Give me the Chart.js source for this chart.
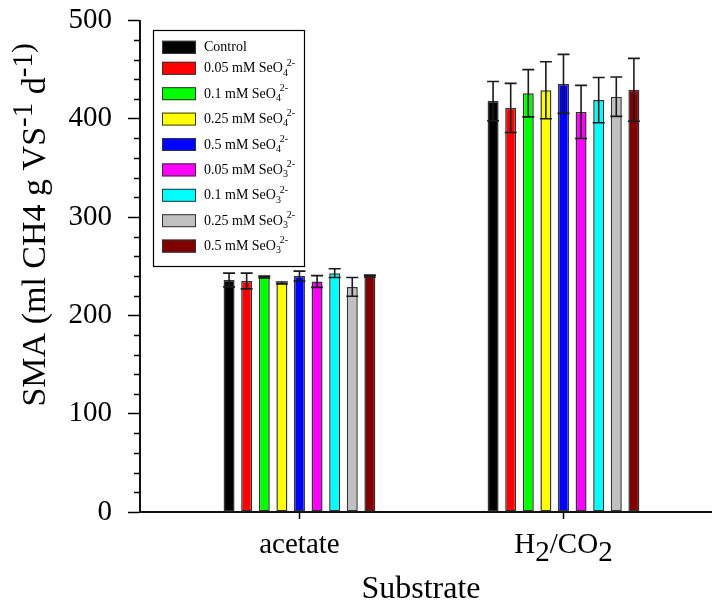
<!DOCTYPE html>
<html>
<head>
<meta charset="utf-8">
<script src="https://cdn.jsdelivr.net/npm/chart.js@4/dist/chart.umd.min.js"></script>
<style>
  html, body { margin: 0; padding: 0; background: #fff; }
  #wrap { width: 712px; height: 608px; position: relative; }
</style>
</head>
<body>
<div id="wrap"><canvas id="chart" width="712" height="608"></canvas></div>
<script>
// Substrates on the x axis ("_" = subscript, "^" = superscript)
const substrates = ['acetate', 'H_2/CO_2'];
const substratePositions = [1, 2];

// Treatments
const treatments = [
  'Control',
  '0.05 mM SeO_4^2-',
  '0.1 mM SeO_4^2-',
  '0.25 mM SeO_4^2-',
  '0.5 mM SeO_4^2-',
  '0.05 mM SeO_3^2-',
  '0.1 mM SeO_3^2-',
  '0.25 mM SeO_3^2-',
  '0.5 mM SeO_3^2-'
];
const treatmentColors = ['#000000', '#ff0000', '#00ff00', '#ffff00', '#0000ff',
                         '#ff00ff', '#00ffff', '#c0c0c0', '#800000'];

// Specific methanogenic activity, mean and standard deviation per treatment
const acetateSMA  = [236, 235, 239, 233, 240, 234.5, 243, 229, 240];
const acetateSD   = [7, 8, 1, 1, 5, 6, 4.5, 9.5, 1];
const h2co2SMA    = [418, 411, 426, 429, 435.5, 407, 419, 422.5, 429.5];
const h2co2SD     = [20, 25, 24, 29, 30, 27, 23, 20, 32];

const yTicks = [0, 100, 200, 300, 400, 500];
const yTitle = 'SMA (ml CH4 g VS^-1 d^-1)';
const xTitle = 'Substrate';

const SERIF = '"Liberation Serif", "Times New Roman", serif';

// Draw text containing _sub and ^sup markup; returns the advance width.
function richText(ctx, text, x, y, size, opt) {
  const o = Object.assign({subScale: 0.72, subDrop: 0.28, supScale: 0.72, supRise: 0.42, measureOnly: false}, opt || {});
  const parts = text.split(/(_[^_^\s/]+|\^[^_^\s]+)/).filter(s => s.length);
  let cx = x;
  let lastSubStart = null, lastSubW = 0;
  for (const p of parts) {
    if (p[0] === '_') {
      const t = p.slice(1);
      ctx.font = Math.round(size * o.subScale) + 'px ' + SERIF;
      const w = ctx.measureText(t).width;
      if (!o.measureOnly) ctx.fillText(t, cx, y + size * o.subDrop);
      lastSubStart = cx; lastSubW = w;
      cx += w;
    } else if (p[0] === '^') {
      const t = p.slice(1);
      ctx.font = Math.round(size * o.supScale) + 'px ' + SERIF;
      const w = ctx.measureText(t).width;
      let sx = cx;
      if (lastSubStart !== null && lastSubStart + lastSubW === cx) sx = lastSubStart + lastSubW * 0.75;
      if (!o.measureOnly) ctx.fillText(t, sx, y - size * o.supRise);
      cx = Math.max(cx, sx + w);
      lastSubStart = null;
    } else {
      ctx.font = size + 'px ' + SERIF;
      const w = ctx.measureText(p).width;
      if (!o.measureOnly) ctx.fillText(p, cx, y);
      cx += w;
      lastSubStart = null;
    }
  }
  return cx - x;
}

const errorData = [acetateSD, h2co2SD];

// Error bars: vertical whisker with caps at mean +/- SD
const errorBars = {
  id: 'errorBars',
  afterDatasetsDraw(chart) {
    const ctx = chart.ctx, ys = chart.scales.y;
    ctx.save();
    ctx.strokeStyle = '#1a1a1a';
    ctx.lineWidth = 1.6;
    chart.data.datasets.forEach((ds, i) => {
      const meta = chart.getDatasetMeta(i);
      meta.data.forEach((bar, j) => {
        const v = ds.data[j].y, e = ds.sd[j];
        const x = bar.x;
        const yt = ys.getPixelForValue(v + e), yb = ys.getPixelForValue(v - e);
        const cap = 6;
        ctx.beginPath();
        ctx.moveTo(x, yt); ctx.lineTo(x, yb);
        ctx.moveTo(x - cap, yt); ctx.lineTo(x + cap, yt);
        ctx.moveTo(x - cap, yb); ctx.lineTo(x + cap, yb);
        ctx.stroke();
      });
    });
    ctx.restore();
  }
};

// Minor y ticks, category labels, axis titles and the boxed legend
const decorations = {
  id: 'decorations',
  afterDraw(chart) {
    const ctx = chart.ctx, ys = chart.scales.y, xs = chart.scales.x;
    const area = chart.chartArea;
    ctx.save();
    ctx.fillStyle = '#000';
    ctx.strokeStyle = '#000';

    // minor ticks every 20
    ctx.lineWidth = 1.5;
    ctx.beginPath();
    for (let v = 20; v < 500; v += 20) {
      if (v % 100 === 0) continue;
      const y = Math.round(ys.getPixelForValue(v)) + 0.5;
      ctx.moveTo(area.left - 6, y); ctx.lineTo(area.left, y);
    }
    ctx.stroke();

    // category labels
    ctx.textBaseline = 'alphabetic';
    ctx.textAlign = 'left';
    substrates.forEach((s, i) => {
      const x = xs.getPixelForValue(substratePositions[i]);
      const w = richText(ctx, s, 0, 0, 29, {subScale: 1, subDrop: 0.28, measureOnly: true});
      richText(ctx, s, x - w / 2, 553, 29, {subScale: 1, subDrop: 0.28});
    });

    // x title
    ctx.font = '32px ' + SERIF;
    ctx.textAlign = 'center';
    ctx.fillText(xTitle, 421, 598);

    // y title, rotated
    ctx.save();
    ctx.translate(44.5, 225);
    ctx.rotate(-Math.PI / 2);
    ctx.textAlign = 'left';
    const tOpt = {supScale: 0.85, supRise: 0.38};
    const tw = richText(ctx, yTitle, 0, 0, 34, Object.assign({measureOnly: true}, tOpt));
    richText(ctx, yTitle, -tw / 2, 0, 34, tOpt);
    ctx.restore();

    // legend
    const lx = 153, ly = 30, lw = 151, lh = 236;
    ctx.fillStyle = '#fff';
    ctx.fillRect(lx, ly, lw, lh);
    ctx.lineWidth = 1.2;
    ctx.strokeStyle = '#000';
    ctx.strokeRect(lx + 0.5, ly + 0.5, lw, lh);
    ctx.textBaseline = 'middle';
    chart.data.datasets.forEach((ds, i) => {
      const cy = i === 0 ? 47.3 : 68.3 + (i - 1) * 25.4;
      ctx.fillStyle = ds.backgroundColor;
      ctx.fillRect(162, cy - 6.5, 34, 13);
      ctx.lineWidth = 1;
      ctx.strokeStyle = '#333';
      ctx.strokeRect(162.5, cy - 6, 33, 12);
      ctx.fillStyle = '#000';
      ctx.textAlign = 'left';
      richText(ctx, treatments[i], 204, cy + 0.5, 14, {subScale: 0.72, subDrop: 0.3, supScale: 0.72, supRise: 0.42});
    });
    ctx.restore();
  }
};

const datasets = treatments.map((name, i) => ({
  label: name,
  data: substratePositions.map((p, k) => ({x: p, y: [acetateSMA, h2co2SMA][k][i]})),
  sd: substratePositions.map((p, k) => errorData[k][i]),
  backgroundColor: treatmentColors[i],
  borderColor: '#333',
  borderWidth: 1.5,
  borderSkipped: false,
  categoryPercentage: 0.6,
  barPercentage: 0.625
}));

// keep tick-label overhang from shrinking the plot area
const noOverhang = s => { s.paddingTop = 0; s.paddingBottom = 0; s.paddingLeft = 0; s.paddingRight = 0; };

new Chart(document.getElementById('chart'), {
  type: 'bar',
  data: { datasets },
  options: {
    responsive: false,
    animation: false,
    devicePixelRatio: 1,
    layout: { autoPadding: false, padding: { top: 20.5, right: 0, left: 0, bottom: 0 } },
    plugins: { legend: { display: false }, tooltip: { enabled: false } },
    scales: {
      x: {
        type: 'linear',
        offset: false,
        min: 0.396,
        max: 2.5625,
        afterBuildTicks: s => { s.ticks = substratePositions.map(v => ({value: v})); },
        afterFit: s => { s.height = 96; noOverhang(s); },
        ticks: { callback: () => '', font: { size: 1 } },
        grid: { offset: false, drawOnChartArea: false, drawTicks: true, tickLength: 7, tickColor: '#000', tickWidth: 1.5 },
        border: { color: '#111', width: 2 }
      },
      y: {
        min: 0,
        max: 500,
        afterBuildTicks: s => { s.ticks = yTicks.map(v => ({value: v})); },
        afterFit: s => { s.width = 140; noOverhang(s); },
        ticks: {
          color: '#000',
          font: { family: SERIF, size: 29 },
          padding: 16
        },
        grid: { drawOnChartArea: false, drawTicks: true, tickLength: 12, tickColor: '#000', tickWidth: 1.5 },
        border: { color: '#111', width: 2 }
      }
    }
  },
  plugins: [errorBars, decorations]
});
</script>
</body>
</html>
